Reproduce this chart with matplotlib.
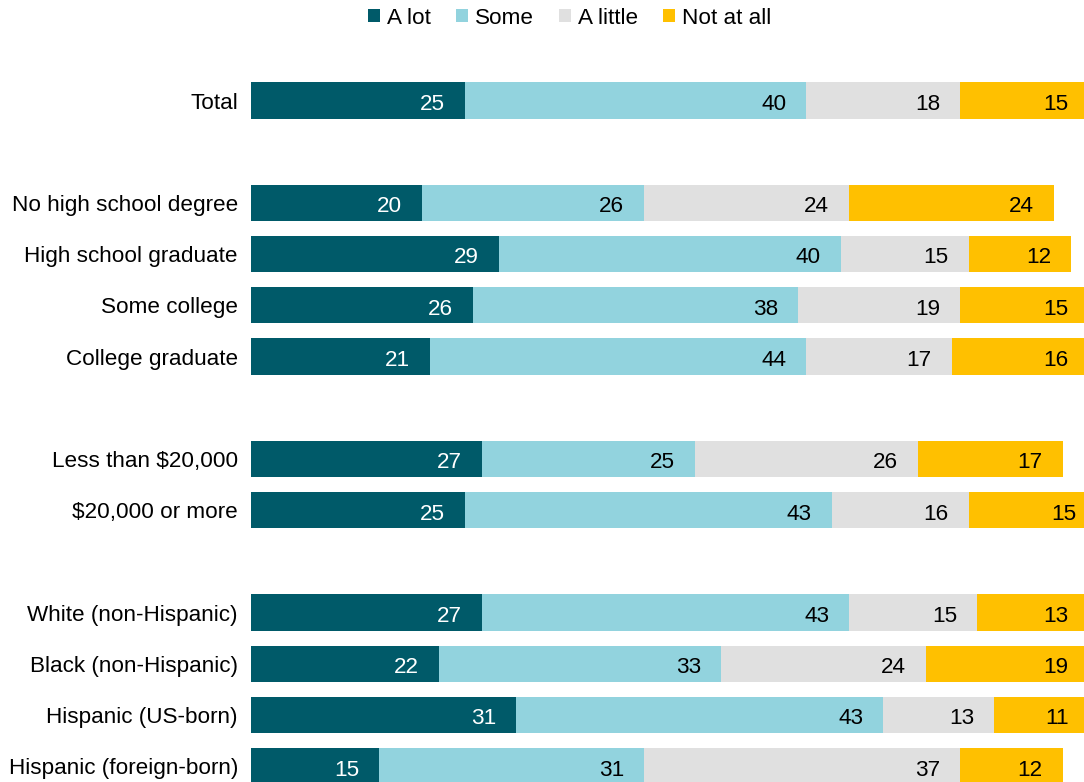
import numpy as np
import matplotlib
matplotlib.use("Agg")
import matplotlib.pyplot as plt
from matplotlib.patches import Patch

# datos
categorias = ["Total",
              "No high school degree", "High school graduate", "Some college", "College graduate",
              "Less than $20,000", "$20,000 or more",
              "White (non-Hispanic)", "Black (non-Hispanic)", "Hispanic (US-born)", "Hispanic (foreign-born)"]
posiciones = [0, 2, 3, 4, 5, 7, 8, 10, 11, 12, 13]  # huecos entre grupos

a_lot = [25, 20, 29, 26, 21, 27, 25, 27, 22, 31, 15]
some = [40, 26, 40, 38, 44, 25, 43, 43, 33, 43, 31]
a_little = [18, 24, 15, 19, 17, 26, 16, 15, 24, 13, 37]
not_at_all = [15, 24, 12, 15, 16, 17, 15, 13, 19, 11, 12]

series = ["A lot", "Some", "A little", "Not at all"]
colores = ["#005A69", "#92D3DE", "#E0E0E0", "#FFC000"]
color_texto = ["white", "black", "black", "black"]

plt.rcParams["font.family"] = ["Liberation Sans", "DejaVu Sans"]

fig = plt.figure(figsize=(10.84, 7.82), dpi=100)
ax = fig.add_axes([251 / 1084, 0, 833 / 1084, (782 - 74.9) / 782])

valores = [a_lot, some, a_little, not_at_all]
izq = np.zeros(len(categorias))
for vals, col, ctxt in zip(valores, colores, color_texto):
    vals = np.array(vals, dtype=float)
    ax.barh(posiciones, vals, left=izq, height=0.71, color=col, edgecolor="none")
    for y, l, v in zip(posiciones, izq, vals):
        ax.annotate(f"{v:.0f}", xy=(l + v, y), xytext=(-14.4, -1), textcoords="offset points",
                    ha="right", va="center_baseline", fontsize=16.2, color=ctxt, annotation_clip=False)
    izq += vals

ax.set_xlim(0, 833 / 8.545)
ax.set_ylim(13.31, -0.5)
ax.set_yticks(posiciones)
ax.set_yticklabels(categorias, fontsize=16.2, va="center_baseline")
ax.tick_params(axis="y", length=0, pad=9.4)
ax.set_xticks([])
for s in ax.spines.values():
    s.set_visible(False)

handles = [Patch(facecolor=c, edgecolor="none") for c in colores]
fig.legend(handles, series, loc="center", bbox_to_anchor=(569.5 / 1084, 1 - 18 / 782),
           ncol=4, frameon=False, fontsize=16.2, handlelength=0.55, handleheight=0.55,
           handletextpad=0.3, columnspacing=1.1, borderaxespad=0)

plt.savefig("out.png", dpi=100)
plt.close()
